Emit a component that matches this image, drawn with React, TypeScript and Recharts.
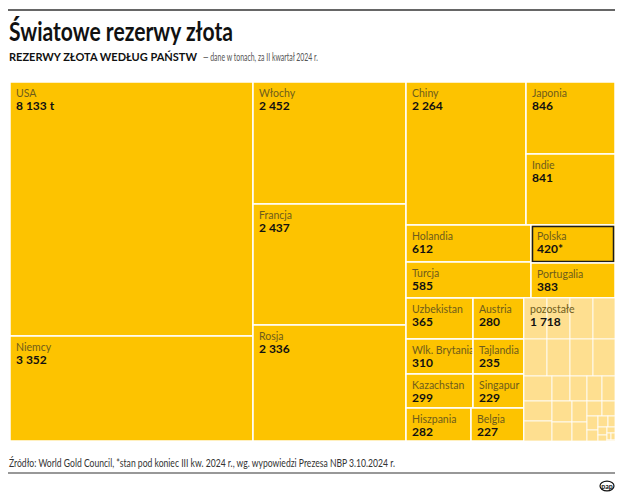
import React from 'react';
import { Treemap } from 'recharts';

const GOLD = '#FDC300';
const PALE = '#FEDF90';
const FONT = 'Lato, "Open Sans", sans-serif';

// tonnes, Q2 2024 (Polska: end of Q3)
const bigNames = ['USA', 'Niemcy', 'Włochy', 'Francja', 'Rosja'];
const bigTonnes = [8133, 3352, 2452, 2437, 2336];

const asiaNames = ['Chiny', 'Japonia', 'Indie'];
const asiaTonnes = [2264, 846, 841];

const midNames = ['Holandia', 'Turcja', 'Polska', 'Portugalia'];
const midTonnes = [612, 585, 420, 383];

const smallNames = ['Uzbekistan', 'Austria', 'Wlk. Brytania', 'Tajlandia', 'Kazachstan', 'Singapur', 'Hiszpania', 'Belgia'];
const smallTonnes = [365, 280, 310, 235, 299, 229, 282, 227];

const otherName = 'pozostałe';
const otherTotal = 1718;
// the unnamed pale cells, estimated from their size
const otherTonnes = [
  126, 124, 122, 120, 114, 112, 110, 108, 93, 59, 56, 49, 43,
  76, 72, 55, 50, 42, 36, 30, 25, 21, 17, 14, 11, 9, 7, 6, 4, 3, 2, 2,
];

const suffix: Record<string, string> = { USA: ' t', Polska: '*' };

type Node = { kind: string; name?: string; value?: number; children?: Node[] };

const leaf = (names: string[], tonnes: number[], i: number): Node => ({ kind: 'country', name: names[i], value: tonnes[i] });
const group = (...children: Node[]): Node => ({ kind: 'group', children });
// a zero-sized first child makes squarify keep the others in one strip, so they stack
const strip = (...children: Node[]): Node => ({ kind: 'group', children: [{ kind: 'spacer', value: 0 }, ...children] });
const sub = (from: number, to: number) => group(...otherTonnes.slice(from, to).map((v) => ({ kind: 'sub', value: v })));

const big = (i: number) => leaf(bigNames, bigTonnes, i);
const asia = (i: number) => leaf(asiaNames, asiaTonnes, i);
const mid = (i: number) => leaf(midNames, midTonnes, i);
const small = (i: number) => leaf(smallNames, smallTonnes, i);

const data: Node[] = [
  group(big(0), big(1)),
  group(big(2), big(3), big(4)),
  group(
    group(asia(0), group(asia(1), asia(2))),
    group(strip(mid(0), mid(1)), strip(mid(2), mid(3))),
    group(
      group(
        group(small(0), small(1)),
        strip(group(small(2), small(3)), group(small(4), small(5)), group(small(6), small(7))),
      ),
      {
        kind: 'other',
        name: otherName,
        children: [sub(0, 4), group(sub(4, 8), strip(sub(8, 13), sub(13, 32))), { kind: 'otherLabel', value: 0 }],
      },
    ),
  ),
];

const fmt = (v: number) => String(v).replace(/\B(?=(\d{3})+(?!\d))/g, ' ');

function Label({ x, y, name, value }: { x: number; y: number; name: string; value: string }) {
  return (
    <g fontFamily={FONT}>
      <text x={x + 6} y={y + 15} fontSize={10.5} fill="#6e5c1c">
        {name}
      </text>
      <text x={x + 6} y={y + 28} fontSize={12} fontWeight={700} fill="#111">
        {value}
      </text>
    </g>
  );
}

function Cell(props: any) {
  const { x, y, width, height, kind, name, value, root } = props;
  if (kind === 'country') {
    return (
      <g>
        <rect x={x} y={y} width={width} height={height} fill={GOLD} stroke="#fff" strokeWidth={1.5} />
        {name === 'Polska' && (
          <rect x={x + 1.5} y={y + 1.5} width={width - 3} height={height - 3} fill="none" stroke="#1a1a1a" strokeWidth={1.5} />
        )}
        <Label x={x} y={y} name={name} value={fmt(value) + (suffix[name] ?? '')} />
      </g>
    );
  }
  if (kind === 'other') {
    return <rect x={x} y={y} width={width} height={height} fill={PALE} stroke="#fff" strokeWidth={1.5} />;
  }
  if (kind === 'sub') {
    return <rect x={x} y={y} width={width} height={height} fill={PALE} stroke="#fff" strokeOpacity={0.8} strokeWidth={1} />;
  }
  if (kind === 'otherLabel' && root) {
    return <Label x={root.x} y={root.y} name={otherName} value={fmt(otherTotal)} />;
  }
  return null;
}

export default function App() {
  return (
    <div style={{ position: 'absolute', left: 0, top: 0, width: 625, height: 498, background: '#fff' }}>
      <svg width={625} height={498} style={{ position: 'absolute', left: 0, top: 0 }} fontFamily={FONT}>
        <line x1={8} x2={615} y1={10} y2={10} stroke="#333" strokeWidth={1.5} />
        <text x={9} y={41} fontSize={26} fontWeight={700} fill="#111" textLength={224} lengthAdjust="spacingAndGlyphs">
          Światowe rezerwy złota
        </text>
        <text x={9} y={61} fontSize={11} fontWeight={700} fill="#111">
          REZERWY ZŁOTA WEDŁUG PAŃSTW
        </text>
        <text x={203} y={61} fontSize={10.5} fill="#555" textLength={115} lengthAdjust="spacingAndGlyphs">
          — dane w tonach, za II kwartał 2024 r.
        </text>
        <text x={9} y={467} fontSize={11} fill="#333" textLength={386} lengthAdjust="spacingAndGlyphs">
          Źródło: World Gold Council, *stan pod koniec III kw. 2024 r., wg. wypowiedzi Prezesa NBP 3.10.2024 r.
        </text>
        <line x1={8} x2={615} y1={473} y2={473} stroke="#333" strokeWidth={1.2} />
        <ellipse cx={607} cy={486} rx={7} ry={4.8} fill="#fff" stroke="#111" strokeWidth={1.2} />
        <text x={607} y={488.5} fontSize={7} fontWeight={700} textAnchor="middle" fill="#111">
          pap
        </text>
      </svg>
      <div style={{ position: 'absolute', left: 10, top: 82 }}>
        <Treemap
          width={605}
          height={359}
          data={data}
          dataKey="value"
          aspectRatio={1}
          isAnimationActive={false}
          content={<Cell />}
        />
      </div>
    </div>
  );
}
